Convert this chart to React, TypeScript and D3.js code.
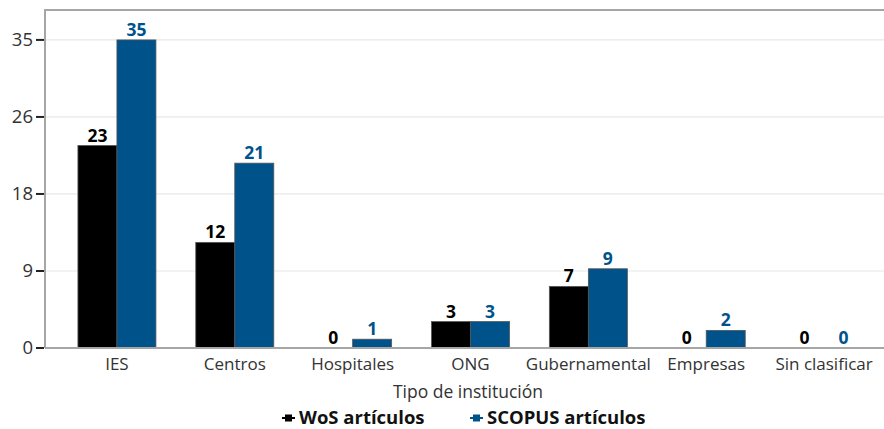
import React from "react";
import * as d3 from "d3";

const categories = ["IES", "Centros", "Hospitales", "ONG", "Gubernamental", "Empresas", "Sin clasificar"];
const wosValues = [23, 12, 0, 3, 7, 0, 0];
const scopusValues = [35, 21, 1, 3, 9, 2, 0];
const yTicks = [0, 8.75, 17.5, 26.25, 35];
const seriesNames = ["WoS artículos", "SCOPUS artículos"];

const WIDTH = 884;
const HEIGHT = 429;
const BLUE = "#00528b";
const FONT = "'Open Sans', 'Noto Sans', sans-serif";

const Chart = () => {
  const svgRef = React.useRef(null);

  React.useEffect(() => {
    const svg = d3.select(svgRef.current);
    svg.selectAll("*").remove();

    const left = 45, top = 10, bottom = 348;

    const x = d3.scaleBand().domain(categories).range([58, 883]).padding(0);
    const y = d3.scaleLinear().domain([0, 38.4]).range([bottom, top]);
    const barW = 39;

    // grid lines
    svg.append("g")
      .selectAll("line")
      .data(yTicks.filter(t => t > 0))
      .enter()
      .append("line")
      .attr("x1", left).attr("x2", WIDTH)
      .attr("y1", d => y(d)).attr("y2", d => y(d))
      .attr("stroke", "#e8e8e8").attr("stroke-width", 1.2);

    // top frame
    svg.append("line")
      .attr("x1", left).attr("x2", WIDTH)
      .attr("y1", top).attr("y2", top)
      .attr("stroke", "#a6a6a6").attr("stroke-width", 2);

    const series = [
      { vals: wosValues, color: "#000000", text: "#000000", off: -barW },
      { vals: scopusValues, color: BLUE, text: BLUE, off: 0 },
    ];

    series.forEach(s => {
      const g = svg.append("g");
      g.selectAll("rect")
        .data(categories)
        .enter()
        .append("rect")
        .attr("x", d => x(d) + x.bandwidth() / 2 + s.off)
        .attr("y", (d, i) => y(s.vals[i]))
        .attr("width", barW)
        .attr("height", (d, i) => bottom - y(s.vals[i]))
        .attr("fill", s.color)
        .attr("stroke", (d, i) => s.vals[i] > 0 ? "#555" : "none")
        .attr("stroke-width", 0.8);
      g.selectAll("text")
        .data(categories)
        .enter()
        .append("text")
        .attr("x", d => x(d) + x.bandwidth() / 2 + s.off + barW / 2)
        .attr("y", (d, i) => y(s.vals[i]) - 4)
        .attr("text-anchor", "middle")
        .attr("font-family", FONT)
        .attr("font-weight", "bold")
        .attr("font-size", 17.5)
        .attr("fill", s.text)
        .text((d, i) => s.vals[i]);
    });

    // y axis
    svg.append("line")
      .attr("x1", left).attr("x2", left)
      .attr("y1", top - 1).attr("y2", bottom)
      .attr("stroke", "#a6a6a6").attr("stroke-width", 2);
    const yg = svg.append("g");
    yg.selectAll("line")
      .data(yTicks)
      .enter()
      .append("line")
      .attr("x1", 36).attr("x2", 44)
      .attr("y1", d => y(d)).attr("y2", d => y(d))
      .attr("stroke", "#222").attr("stroke-width", 2);
    yg.selectAll("text")
      .data(yTicks)
      .enter()
      .append("text")
      .attr("x", 33)
      .attr("y", d => y(d))
      .attr("dy", "0.35em")
      .attr("text-anchor", "end")
      .attr("font-family", FONT)
      .attr("font-size", 18.5)
      .attr("fill", "#333")
      .text(d => Math.round(d));

    // x axis
    svg.append("line")
      .attr("x1", left).attr("x2", WIDTH)
      .attr("y1", bottom).attr("y2", bottom)
      .attr("stroke", "#a6a6a6").attr("stroke-width", 2);
    svg.append("g")
      .selectAll("text")
      .data(categories)
      .enter()
      .append("text")
      .attr("x", d => x(d) + x.bandwidth() / 2)
      .attr("y", 370)
      .attr("text-anchor", "middle")
      .attr("font-family", FONT)
      .attr("font-size", 17)
      .attr("fill", "#333")
      .text(d => d);

    svg.append("text")
      .attr("x", 468).attr("y", 398)
      .attr("text-anchor", "middle")
      .attr("font-family", FONT)
      .attr("font-size", 17.5)
      .attr("fill", "#333")
      .text("Tipo de institución");

    // legend
    const legend = [
      { name: seriesNames[0], color: "#000000", x: 282 },
      { name: seriesNames[1], color: BLUE, x: 470 },
    ];
    legend.forEach(l => {
      const g = svg.append("g").attr("transform", `translate(${l.x},418)`);
      g.append("line").attr("x1", 0).attr("x2", 13).attr("y1", 0).attr("y2", 0)
        .attr("stroke", l.color).attr("stroke-width", 2);
      g.append("rect").attr("x", 3).attr("y", -3.5).attr("width", 7).attr("height", 7)
        .attr("fill", l.color);
      g.append("text").attr("x", 17).attr("y", 0).attr("dy", "0.35em")
        .attr("font-family", FONT).attr("font-weight", "bold").attr("font-size", 18.5)
        .attr("fill", "#111").text(l.name);
    });
  }, []);

  return <svg ref={svgRef} width={WIDTH} height={HEIGHT} style={{ display: "block" }} />;
};

export default function App() {
  return (
    <div style={{ position: "absolute", top: 0, left: 0 }}>
      <Chart />
    </div>
  );
}
